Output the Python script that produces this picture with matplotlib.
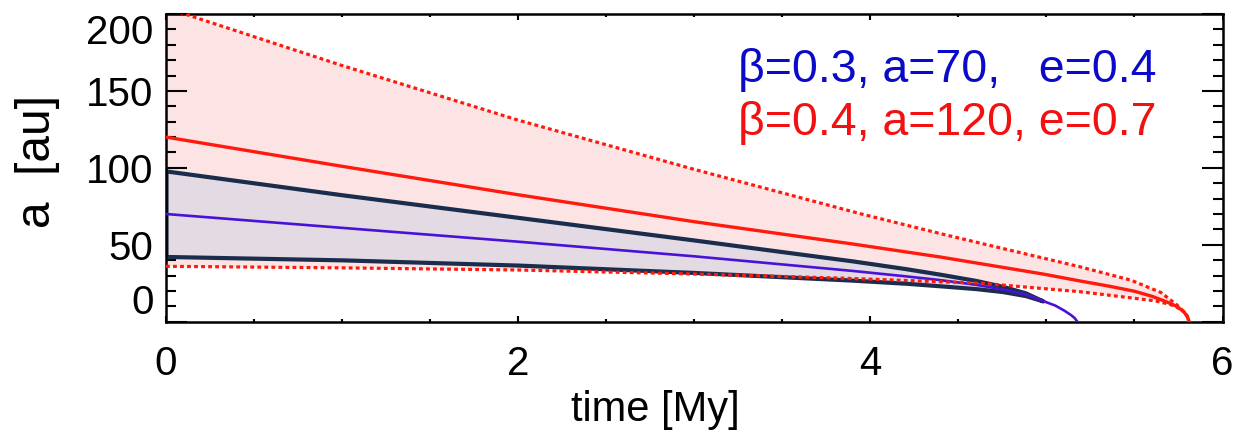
import numpy as np
import matplotlib
matplotlib.use("Agg")
import matplotlib.pyplot as plt

plt.rcParams['font.family'] = ['Liberation Sans', 'DejaVu Sans']

# Semi-major axis evolution, beta=0.4, a0=120 au, e0=0.7
t_red = [0, 1, 2, 3, 3.9, 4.4, 4.98, 5.19, 5.36, 5.5, 5.6, 5.68, 5.74, 5.78, 5.80, 5.81]
a_red = [120, 101, 82.5, 65, 50.5, 42, 31, 26.5, 23, 19.8, 16.5, 13, 10, 6.5, 3.5, 0]

# Pericentre / apocentre envelope for the red case
t_red_hi = [0, 1, 2, 3, 3.95, 4.4, 4.63, 4.98, 5.19, 5.48, 5.65, 5.74, 5.78, 5.80, 5.81]
a_red_hi = [204, 166.5, 131, 99, 70, 57.2, 50.9, 41.4, 35.7, 27, 19, 11, 6.5, 3.5, 0]
t_red_lo = [0, 1, 2, 3, 3.84, 4.63, 5.19, 5.48, 5.62, 5.70, 5.74, 5.78, 5.80, 5.81]
a_red_lo = [36, 35, 33.6, 31, 28.3, 25, 19.5, 15.5, 13.5, 11.3, 9.5, 6.5, 3.5, 0]

# Semi-major axis evolution, beta=0.3, a0=70 au, e0=0.4
t_blue = [0, 1, 2, 3, 3.9, 4.2, 4.4, 4.6, 4.75, 4.88, 4.98, 5.05, 5.1, 5.14, 5.16, 5.176]
a_blue = [70, 61, 52, 42.5, 33, 29.5, 27, 24, 21, 17.8, 13.5, 10.5, 7.3, 4.3, 2.4, 0]

# Pericentre / apocentre envelope for the blue case
t_blue_env = [0, 1, 2, 3, 3.9, 4.2, 4.4, 4.6, 4.75, 4.88, 4.98]
a_blue_hi = [98, 82.5, 67.8, 53.1, 39.5, 34.5, 30.8, 26.8, 23, 18.8, 13.5]
a_blue_lo = [42.4, 40.2, 36.8, 32, 27, 25, 23.3, 21.5, 19.6, 17, 13.5]

x_ticks = [0, 2, 4, 6]
x_minor = [0.5, 1, 1.5, 2.5, 3, 3.5, 4.5, 5, 5.5]
y_ticks = [0, 50, 100, 150, 200]
y_minor = [10, 20, 30, 40, 60, 70, 80, 90, 110, 120, 130, 140, 160, 170, 180, 190]

label_blue = "\u03b2=0.3, a=70,   e=0.4"
label_red = "\u03b2=0.4, a=120, e=0.7"

RED = '#ff1a0d'
NAVY = '#1b2d4d'
BLUE = '#4a12d6'

W, H = 1239, 432
fig = plt.figure(figsize=(W / 100, H / 100), dpi=100)
ax = fig.add_axes([166 / W, 1 - 321.7 / H, (1222.5 - 166) / W, (321.7 - 14) / H])

# red envelope
ax.fill(np.concatenate([t_red_hi, t_red_lo[::-1]]),
        np.concatenate([a_red_hi, a_red_lo[::-1]]),
        facecolor='#fde4e4', edgecolor='none', zorder=1)
# blue envelope
ax.fill_between(t_blue_env, a_blue_lo, a_blue_hi, facecolor='#e3dae3',
                edgecolor=NAVY, linewidth=3.0, zorder=2)
ax.plot(t_blue, a_blue, color=BLUE, lw=1.9, zorder=3, solid_capstyle='round')
dots = (0, (1.2, 1.0))
ax.plot(t_red_hi, a_red_hi, color=RED, lw=2.3, ls=dots, zorder=4)
ax.plot(t_red_lo, a_red_lo, color=RED, lw=2.3, ls=dots, zorder=4)
ax.plot(t_red, a_red, color=RED, lw=2.4, zorder=5, solid_capstyle='round')

ax.set_xlim(0, 6)
ax.set_ylim(0, 200)
ax.set_xticks(x_ticks)
ax.set_xticks(x_minor, minor=True)
ax.set_yticks(y_ticks)
ax.set_yticks(y_minor, minor=True)
ax.set_xticklabels([str(v) for v in x_ticks])
ax.set_yticklabels([str(v) for v in y_ticks])

for s in ax.spines.values():
    s.set_linewidth(1.8)

ax.tick_params(axis='both', which='both', direction='in', top=True, right=True,
               width=1.5, colors='black', labelsize=29)
ax.tick_params(axis='y', which='major', length=15, pad=9)
ax.tick_params(axis='y', which='minor', length=7)
ax.tick_params(axis='x', which='major', length=4, pad=17)
ax.tick_params(axis='x', which='minor', length=2.5)

yt = ax.yaxis.get_major_ticks()
yt[0].label1.set_verticalalignment('bottom')
yt[-1].label1.set_verticalalignment('top')

fig.text(655 / W, 1 - 390 / H, "time [My]", ha='center', va='top', fontsize=30)
fig.text(38 / W, 1 - 162 / H, "a  [au]", ha='center', va='center',
         rotation=90, fontsize=34.5)

fig.text(738 / W, 1 - 82 / H, label_blue, color='#0a0ac8', fontsize=33.5,
         ha='left', va='baseline')
fig.text(738 / W, 1 - 135 / H, label_red, color='#f21010', fontsize=33.5,
         ha='left', va='baseline')

fig.savefig('out.png', dpi=100)
